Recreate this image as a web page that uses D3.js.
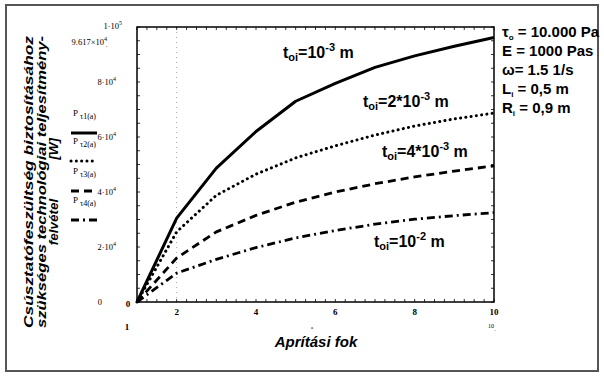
<!DOCTYPE html>
<html><head><meta charset="utf-8">
<script src="https://cdn.jsdelivr.net/npm/d3@7"></script>
<style>
html,body{margin:0;padding:0;background:#fff;}
svg{display:block;}
</style></head>
<body>
<svg id="chart" width="604" height="377"></svg>
<script>
// ---- data ----
const xValues = [1, 2, 3, 4, 5, 6, 7, 8, 9, 10];
const seriesT1 = [0, 30500, 48700, 62000, 73000, 79500, 85300, 89500, 93000, 96170];
const seriesT2 = [0, 25500, 38800, 46500, 52400, 56800, 60700, 64000, 66600, 68700];
const seriesT3 = [0, 16000, 25500, 31500, 36300, 40000, 43000, 45500, 47600, 49500];
const seriesT4 = [0, 10500, 15500, 19800, 23300, 26000, 28300, 30100, 31400, 32500];
const seriesNames = ["τ1(a)", "τ2(a)", "τ3(a)", "τ4(a)"];
const curveLabels = [
  {pre: "10", sup: "-3"},
  {pre: "2*10", sup: "-3"},
  {pre: "4*10", sup: "-3"},
  {pre: "10", sup: "-2"}
];
const xTickValues = [2, 4, 6, 8, 10];
const yTickValues = [0, 20000, 40000, 60000, 80000];
const yTickMantissa = ["0", "2", "4", "6", "8"];
const yMaxLabel = {base: "1·10", exp: "5"};
const yEndLabel = {base: "9.617×10", exp: "4"};
const params = [
  {sym: "τ", sub: "o", rest: " = 10.000 Pa"},
  {sym: "E", sub: "", rest: " = 1000 Pas"},
  {sym: "ω", sub: "", rest: "= 1.5 1/s"},
  {sym: "L", sub: "i", rest: " = 0,5 m"},
  {sym: "R", sub: "i", rest: " = 0,9 m"}
];
const yTitleLines = ["Csúsztatófeszültség biztosításához", "szükséges technológiai teljesítmény-"];
const yTitleLast = ["felvétel", "[W]"];
const xTitle = "Aprítási fok";

const svg = d3.select("#chart");
const x = d3.scaleLinear().domain([1, 10]).range([137, 494]);
const y = d3.scaleLinear().domain([0, 100000]).range([302, 27]);

const serif = "'Liberation Serif','Times New Roman',serif";
const sans = "'Liberation Sans',Arial,sans-serif";

// outer border
svg.append("rect").attr("x", 6).attr("y", 5).attr("width", 592).attr("height", 366)
  .attr("fill", "none").attr("stroke", "#555").attr("stroke-width", 2);

// faint grid line
svg.append("line").attr("x1", x(2)).attr("x2", x(2)).attr("y1", y(100000)).attr("y2", y(0))
  .attr("stroke", "#888").attr("stroke-width", 0.8).attr("stroke-dasharray", "1,4");

// minor ticks
const g = svg.append("g");
const xMinor = d3.range(1, 10.001, 0.25);
xMinor.forEach(v => {
  g.append("line").attr("x1", x(v)).attr("x2", x(v)).attr("y1", y(0)).attr("y2", y(0) - 3)
    .attr("stroke", "#000").attr("stroke-width", 0.8);
  g.append("line").attr("x1", x(v)).attr("x2", x(v)).attr("y1", y(100000)).attr("y2", y(100000) + 3)
    .attr("stroke", "#000").attr("stroke-width", 0.8);
});
const yMinor = d3.range(0, 100001, 5000);
yMinor.forEach(v => {
  g.append("line").attr("x1", x(1)).attr("x2", x(1) + 3).attr("y1", y(v)).attr("y2", y(v))
    .attr("stroke", "#000").attr("stroke-width", 0.8);
  g.append("line").attr("x1", x(10)).attr("x2", x(10) - 3).attr("y1", y(v)).attr("y2", y(v))
    .attr("stroke", "#000").attr("stroke-width", 0.8);
});

// frame
svg.append("rect").attr("x", x(1)).attr("y", y(100000)).attr("width", x(10) - x(1)).attr("height", y(0) - y(100000))
  .attr("fill", "none").attr("stroke", "#000").attr("stroke-width", 1.5);

// curves
const styles = [
  {w: 3, dash: null, cap: "butt"},
  {w: 3, dash: "0.1,5.2", cap: "round"},
  {w: 2.8, dash: "8,5", cap: "butt"},
  {w: 2.8, dash: "8,4,2,4", cap: "butt"}
];
const allSeries = [seriesT1, seriesT2, seriesT3, seriesT4];
const line = d3.line().x(d => x(d[0])).y(d => y(d[1]));
allSeries.forEach((s, i) => {
  svg.append("path").datum(xValues.map((v, j) => [v, s[j]]))
    .attr("d", line).attr("fill", "none").attr("stroke", "#000")
    .attr("stroke-width", styles[i].w)
    .attr("stroke-dasharray", styles[i].dash)
    .attr("stroke-linecap", styles[i].cap)
    .attr("stroke-linejoin", "round");
});

// x tick labels
xTickValues.forEach(v => {
  svg.append("text").attr("x", x(v)).attr("y", 315).attr("text-anchor", "middle")
    .attr("font-family", serif).attr("font-size", 9).attr("font-weight", "bold").text(v);
});
svg.append("text").attr("x", 128).attr("y", 307).attr("text-anchor", "middle")
  .attr("font-family", serif).attr("font-size", 9).attr("font-weight", "bold").text("0");
svg.append("text").attr("x", 127).attr("y", 330).attr("text-anchor", "middle")
  .attr("font-family", serif).attr("font-size", 9).attr("font-weight", "bold").text("1");
svg.append("text").attr("x", 312).attr("y", 329).attr("text-anchor", "middle")
  .attr("font-family", serif).attr("font-size", 5).text("a");
const t10 = svg.append("text").attr("x", 492).attr("y", 328).attr("text-anchor", "middle")
  .attr("font-family", serif).attr("font-size", 6);
t10.append("tspan").text("10");
t10.append("tspan").attr("dy", 2).attr("font-size", 4).text("_");

// y tick labels
yTickValues.forEach((v, i) => {
  const t = svg.append("text").attr("x", 116).attr("y", y(v) + 3).attr("text-anchor", "end")
    .attr("font-family", serif).attr("font-size", 8.5);
  if (v === 0) {
    t.attr("x", 102).text(yTickMantissa[i]);
  } else {
    t.append("tspan").text(yTickMantissa[i] + "·10");
    t.append("tspan").attr("dy", -4).attr("font-size", 6).text("4");
  }
});
const tMax = svg.append("text").attr("x", 122).attr("y", y(100000) + 2).attr("text-anchor", "end")
  .attr("font-family", serif).attr("font-size", 8.5);
tMax.append("tspan").text(yMaxLabel.base);
tMax.append("tspan").attr("dy", -4).attr("font-size", 6).text(yMaxLabel.exp);
const tEnd = svg.append("text").attr("x", 107).attr("y", y(96170) + 7).attr("text-anchor", "end")
  .attr("font-family", serif).attr("font-size", 8.5);
tEnd.append("tspan").text(yEndLabel.base);
tEnd.append("tspan").attr("dy", -4).attr("font-size", 6).text(yEndLabel.exp);
svg.append("text").attr("x", 106).attr("y", y(96170) + 9).attr("font-family", serif).attr("font-size", 6).text(".");

// legend
const legY = [116, 144, 174, 203];
seriesNames.forEach((nm, i) => {
  const t = svg.append("text").attr("x", 73).attr("y", legY[i]).attr("font-family", serif).attr("font-size", 9);
  t.append("tspan").text("P ");
  t.append("tspan").attr("dy", 3).attr("font-size", 8).text(nm);
  svg.append("line").attr("x1", 71).attr("x2", 97).attr("y1", legY[i] + 17).attr("y2", legY[i] + 17)
    .attr("stroke", "#000").attr("stroke-width", styles[i].w)
    .attr("stroke-dasharray", styles[i].dash).attr("stroke-linecap", styles[i].cap);
});

// curve labels
const clPos = [[283, 58], [363, 107], [382, 157], [374, 247]];
curveLabels.forEach((c, i) => {
  const t = svg.append("text").attr("x", clPos[i][0]).attr("y", clPos[i][1])
    .attr("font-family", sans).attr("font-weight", "bold").attr("font-size", 16);
  t.append("tspan").text("t");
  t.append("tspan").attr("dy", 3).attr("font-size", 11).text("oi");
  t.append("tspan").attr("dy", -3).text("=" + c.pre);
  t.append("tspan").attr("dy", -7).attr("font-size", 11).text(c.sup);
  t.append("tspan").attr("dy", 7).text(" m");
});

// parameters
params.forEach((p, i) => {
  const t = svg.append("text").attr("x", 502).attr("y", 37 + i * 19)
    .attr("font-family", sans).attr("font-weight", "bold").attr("font-size", 15);
  t.append("tspan").text(p.sym);
  if (p.sub) t.append("tspan").attr("dy", 3).attr("font-size", 8).text(p.sub);
  t.append("tspan").attr("dy", p.sub ? -3 : 0).text(p.rest);
});

// y title
const yBase = [33, 46];
yTitleLines.forEach((s, i) => {
  svg.append("text").attr("transform", `translate(${yBase[i]},182) rotate(-90)`)
    .attr("text-anchor", "middle").attr("font-family", sans).attr("font-weight", "bold")
    .attr("font-style", "italic").attr("font-size", 13.5)
    .attr("textLength", 292).attr("lengthAdjust", "spacingAndGlyphs").text(s);
});
svg.append("text").attr("transform", `translate(58,222) rotate(-90)`)
  .attr("text-anchor", "middle").attr("font-family", sans).attr("font-weight", "bold")
  .attr("font-style", "italic").attr("font-size", 13.5).text(yTitleLast[0]);
svg.append("text").attr("transform", `translate(58,149) rotate(-90)`)
  .attr("text-anchor", "middle").attr("font-family", sans).attr("font-weight", "bold")
  .attr("font-style", "italic").attr("font-size", 13.5).text(yTitleLast[1]);

// x title
svg.append("text").attr("x", 316).attr("y", 347).attr("text-anchor", "middle")
  .attr("font-family", sans).attr("font-weight", "bold").attr("font-style", "italic")
  .attr("font-size", 15).text(xTitle);
</script>
</body></html>
